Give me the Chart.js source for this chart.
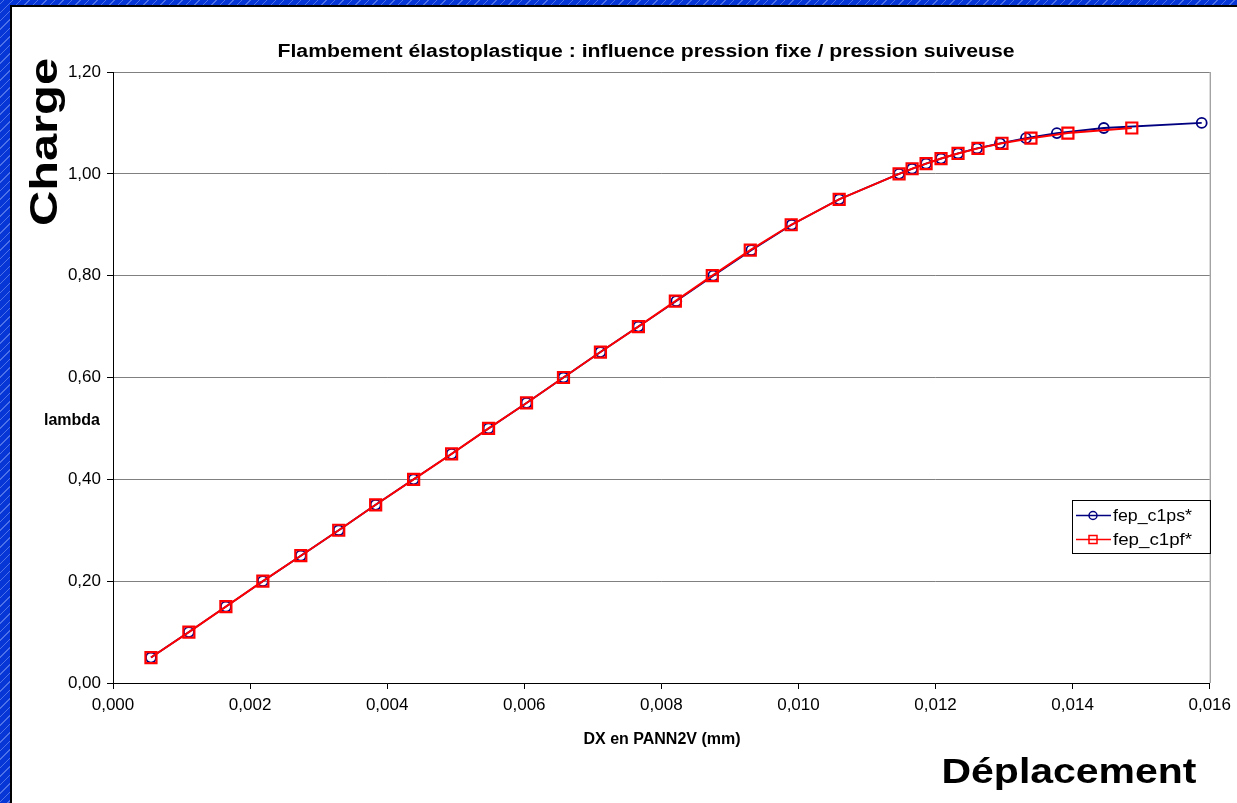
<!DOCTYPE html>
<html lang="fr">
<head>
<meta charset="utf-8">
<title>Flambement élastoplastique</title>
<script src="https://cdn.jsdelivr.net/npm/chart.js@4.4.1/dist/chart.umd.min.js"></script>
<style>
  html, body { margin: 0; padding: 0; }
  body {
    width: 1237px; height: 803px; overflow: hidden; position: relative;
    background-color: #0736d6;
    background-image: repeating-linear-gradient(-45deg, rgba(255,255,255,0) 0px, rgba(255,255,255,0) 5px, rgba(160,185,255,0.45) 5px, rgba(160,185,255,0.45) 6px);
  }
  #panel {
    position: absolute; left: 10px; top: 5px; right: 0; bottom: 0;
    background: #ffffff;
    border-left: 2px solid #000; border-top: 2px solid #000;
  }
  #wrap { position: absolute; left: 0; top: 0; width: 1237px; height: 803px; }
</style>
</head>
<body>
<div id="panel"></div>
<div id="wrap"><canvas id="chart" width="1237" height="803"></canvas></div>
<script>
// Load levels (lambda) and displacement DX (mm) for both pressure cases
const lambdaPS = [0.05, 0.10, 0.15, 0.20, 0.25, 0.30, 0.35, 0.40, 0.45, 0.50,
                  0.55, 0.60, 0.65, 0.70, 0.75, 0.80, 0.85, 0.90, 0.95, 1.00,
                  1.01, 1.02, 1.03, 1.04, 1.05, 1.06, 1.07, 1.08, 1.09, 1.10];
const dxPS = [0.000554, 0.001107, 0.001647, 0.002186, 0.002740, 0.003293, 0.003832, 0.004386, 0.004940, 0.005479,
              0.006033, 0.006572, 0.007111, 0.007665, 0.008218, 0.008757, 0.009312, 0.009901, 0.010594, 0.011468,
              0.011658, 0.011862, 0.012080, 0.012328, 0.012605, 0.012940, 0.013319, 0.013770, 0.014455, 0.015883];

const lambdaPF = [0.05, 0.10, 0.15, 0.20, 0.25, 0.30, 0.35, 0.40, 0.45, 0.50,
                  0.55, 0.60, 0.65, 0.70, 0.75, 0.80, 0.85, 0.90, 0.95, 1.00,
                  1.01, 1.02, 1.03, 1.04, 1.05, 1.06, 1.07, 1.08, 1.09];
const dxPF = [0.000554, 0.001107, 0.001647, 0.002186, 0.002740, 0.003293, 0.003832, 0.004386, 0.004940, 0.005479,
              0.006033, 0.006572, 0.007111, 0.007665, 0.008204, 0.008743, 0.009297, 0.009894, 0.010594, 0.011468,
              0.011658, 0.011862, 0.012080, 0.012328, 0.012619, 0.012969, 0.013392, 0.013931, 0.014863];

const seriesNames = ['fep_c1ps*', 'fep_c1pf*'];
const xTicks = [0, 0.002, 0.004, 0.006, 0.008, 0.010, 0.012, 0.014, 0.016];
const yTicks = [0, 0.2, 0.4, 0.6, 0.8, 1.0, 1.2];

const chartTitle = 'Flambement élastoplastique : influence pression fixe / pression suiveuse';
const xTitle = 'DX en PANN2V (mm)';
const yTitle = 'lambda';
const bigY = 'Charge';
const bigX = 'Déplacement';

const BLUE = '#000080';
const RED = '#ff0000';
const FONT = 'Arial, "Liberation Sans", Helvetica, sans-serif';

function pts(xs, ys) { return xs.map((x, i) => ({ x: x, y: ys[i] })); }
const comma = (v, d) => v.toFixed(d).replace('.', ',');

// draw text, optionally squeezed/stretched to a given width
function drawText(ctx, text, x, y, font, align, width, rotate) {
  ctx.save();
  ctx.font = font;
  ctx.fillStyle = '#000';
  ctx.textBaseline = 'alphabetic';
  ctx.translate(x, y);
  if (rotate) ctx.rotate(rotate);
  const w = ctx.measureText(text).width;
  const sx = width ? width / w : 1;
  ctx.scale(sx, 1);
  let ox = 0;
  if (align === 'center') ox = -w / 2;
  else if (align === 'right') ox = -w;
  ctx.fillText(text, ox, 0);
  ctx.restore();
}

const decorations = {
  id: 'decorations',
  beforeDatasetsDraw(chart) {
    const { ctx, chartArea: a } = chart;
    // plot frame, right edge
    ctx.save();
    ctx.strokeStyle = '#808080';
    ctx.lineWidth = 1;
    ctx.beginPath();
    ctx.moveTo(a.right + 0.5, a.top);
    ctx.lineTo(a.right + 0.5, a.bottom);
    ctx.stroke();
    ctx.restore();
  },
  afterDraw(chart) {
    const { ctx } = chart;
    drawText(ctx, chartTitle, 646, 57, 'bold 18px ' + FONT, 'center', 737);
    drawText(ctx, xTitle, 662, 744, 'bold 16px ' + FONT, 'center');
    drawText(ctx, yTitle, 100, 425, 'bold 16px ' + FONT, 'right');
    drawText(ctx, bigX, 1069, 783, 'bold 35px ' + FONT, 'center', 255);
    drawText(ctx, bigY, 57, 142, 'bold 38px ' + FONT, 'center', 168, -Math.PI / 2);

    // legend
    ctx.save();
    ctx.strokeStyle = '#000';
    ctx.lineWidth = 1;
    ctx.strokeRect(1072.5, 500.5, 138, 53);
    const rows = [
      { y: 515, color: BLUE, style: 'circle', name: seriesNames[0] },
      { y: 539, color: RED, style: 'rect', name: seriesNames[1] }
    ];
    rows.forEach(r => {
      ctx.strokeStyle = r.color;
      ctx.lineWidth = 1.5;
      ctx.beginPath();
      ctx.moveTo(1076, r.y + 0.5);
      ctx.lineTo(1111, r.y + 0.5);
      ctx.stroke();
      ctx.beginPath();
      if (r.style === 'circle') ctx.arc(1093, r.y + 0.5, 4, 0, Math.PI * 2);
      else ctx.rect(1089, r.y - 3.5, 8, 8);
      ctx.stroke();
      drawText(ctx, r.name, 1113, r.y + 6, '16px ' + FONT, 'left', 79);
    });
    ctx.restore();
  }
};

new Chart(document.getElementById('chart'), {
  type: 'scatter',
  data: {
    datasets: [
      {
        label: seriesNames[0],
        data: pts(dxPS, lambdaPS),
        showLine: true,
        borderColor: BLUE,
        borderWidth: 1.8,
        pointStyle: 'circle',
        pointRadius: 5,
        pointBorderWidth: 1.8,
        pointBorderColor: BLUE,
        pointBackgroundColor: 'rgba(0,0,0,0)',
        order: 1
      },
      {
        label: seriesNames[1],
        data: pts(dxPF, lambdaPF),
        showLine: true,
        borderColor: RED,
        borderWidth: 2,
        pointStyle: 'rect',
        pointRadius: 7.8,
        pointBorderWidth: 2.2,
        pointBorderColor: RED,
        pointBackgroundColor: 'rgba(0,0,0,0)',
        order: 0
      }
    ]
  },
  options: {
    responsive: false,
    animation: false,
    layout: { padding: { left: 0, top: 72, right: 26, bottom: 0 } },
    plugins: { legend: { display: false }, tooltip: { enabled: false }, title: { display: false } },
    scales: {
      x: {
        type: 'linear',
        min: 0, max: 0.016,
        afterBuildTicks: s => { s.ticks = xTicks.map(v => ({ value: v })); },
        afterFit: s => { s.height = 120; },
        border: { color: '#000', width: 1 },
        grid: { drawOnChartArea: false, drawTicks: true, tickLength: 6, tickColor: '#000' },
        ticks: {
          color: '#000', font: { family: FONT, size: 17 }, padding: 6,
          maxRotation: 0, autoSkip: false,
          callback: v => comma(v, 3)
        }
      },
      y: {
        type: 'linear',
        min: 0, max: 1.2,
        afterBuildTicks: s => { s.ticks = yTicks.map(v => ({ value: v })); },
        afterFit: s => { s.width = 113; },
        border: { color: '#000', width: 1 },
        grid: { color: '#808080', lineWidth: 1, drawTicks: true, tickLength: 6, tickColor: '#000' },
        ticks: {
          color: '#000', font: { family: FONT, size: 17 }, padding: 6,
          autoSkip: false,
          callback: v => comma(v, 2)
        }
      }
    }
  },
  plugins: [decorations]
});
</script>
</body>
</html>
